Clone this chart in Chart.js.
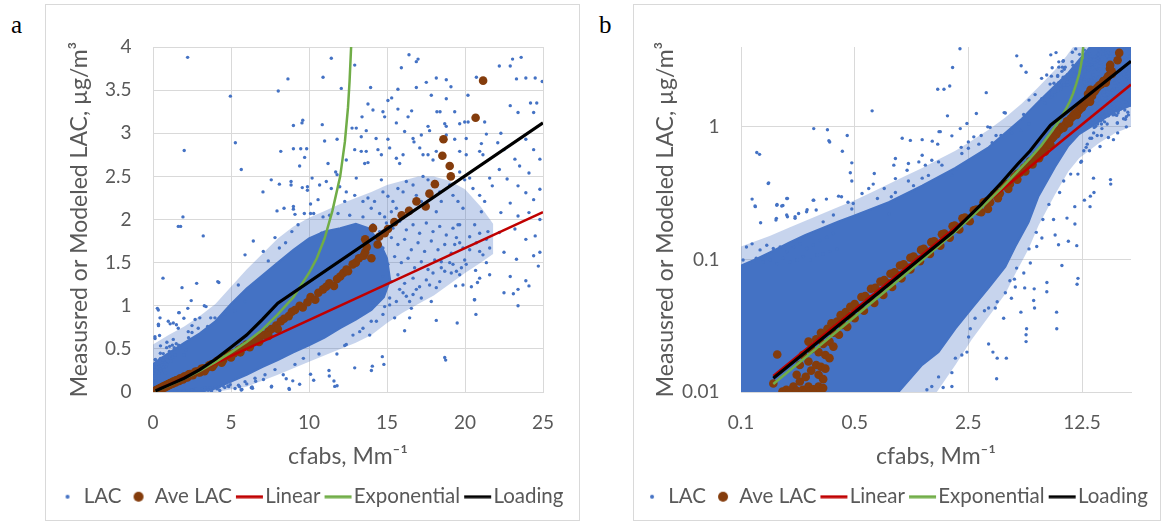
<!DOCTYPE html>
<html>
<head>
<meta charset="utf-8">
<script src="https://cdn.jsdelivr.net/npm/chart.js@4.4.1/dist/chart.umd.min.js"></script>
<style>
  body { margin: 0; background: #fff; width: 1162px; height: 522px; position: relative; overflow: hidden; }
  .panel { position: absolute; top: 4px; height: 517px; border: 1px solid #d9d9d9; box-sizing: border-box; }
  .tag { position: absolute; top: 12px; font: 25px/25px "Liberation Serif", "Times New Roman", serif; color: #000; }
  canvas { position: absolute; top: 5px; }
</style>
</head>
<body>
<div class="panel" style="left:45px;width:535px"></div>
<div class="panel" style="left:633px;width:528px"></div>
<div class="tag" style="left:11px">a</div>
<div class="tag" style="left:599px">b</div>
<canvas id="chartA" width="533" height="515" style="left:46px"></canvas>
<canvas id="chartB" width="526" height="515" style="left:634px"></canvas>
<script>
// tick values
const tickA_X = [0, 5, 10, 15, 20, 25];
const tickA_Y = [0, 0.5, 1, 1.5, 2, 2.5, 3, 3.5, 4];
const tickB_X = [0.1, 0.5, 2.5, 12.5];
const tickB_Y = [0.01, 0.1, 1];

// fitted curves [cfabs, LAC]
const linearPoints = [[0.158, 0.0132], [25, 2.085]];
const expPoints = [[0.158, 0.0115], [0.5, 0.037], [1, 0.075], [2, 0.155], [3, 0.245], [4, 0.345], [5, 0.46], [6, 0.58],
  [7, 0.72], [8, 0.9], [9, 1.1], [10, 1.38], [10.5, 1.55], [11, 1.78], [11.5, 2.1], [12, 2.5], [12.3, 2.9], [12.5, 3.3],
  [12.6, 3.6], [12.7, 4.0]];
const loadingPoints = [[0.158, 0.0127], [0.5, 0.04], [1, 0.08], [2, 0.16], [3, 0.26], [4, 0.38], [5, 0.52], [6, 0.66],
  [7, 0.84], [8, 1.03], [25, 3.12]];

// averaged LAC
const avePoints = [
  [0.158,0.0116],[0.167,0.0192],[0.18,0.0101],[0.19,0.0104],[0.2,0.0101],[0.21,0.011],[0.22,0.0102],[0.23,0.012],[0.24,0.0104],
  [0.25,0.0101],[0.26,0.011],[0.27,0.0102],[0.28,0.0105],[0.29,0.0101],[0.3,0.011],[0.31,0.0104],[0.32,0.0107],
  [0.22,0.0135],[0.25,0.013],[0.27,0.0145],[0.3,0.0135],[0.32,0.0125],[0.23,0.016],[0.26,0.017],[0.29,0.016],[0.31,0.0155],
  [0.33,0.015],[0.24,0.019],[0.27,0.021],[0.3,0.02],[0.33,0.019],[0.35,0.018],[0.26,0.024],[0.29,0.025],[0.32,0.023],
  [0.35,0.024],[0.37,0.022],[0.31,0.028],[0.34,0.03],[0.37,0.028],[0.4,0.027],[0.36,0.033],[0.39,0.034],[0.42,0.032],
  [0.45,0.031],[0.41,0.038],[0.44,0.04],[0.47,0.037],[0.5,0.036],[0.47,0.044],[0.5,0.046],[0.54,0.043],[0.57,0.041],
  [0.55,0.052],[0.58,0.053],[0.62,0.05],[0.66,0.047],[0.63,0.06],[0.67,0.061],[0.71,0.057],[0.75,0.054],[0.72,0.068],
  [0.76,0.07],[0.8,0.066],[0.85,0.062],[0.83,0.078],[0.88,0.08],[0.92,0.076],[0.97,0.072],[0.95,0.09],[1.0,0.092],
  [1.05,0.087],[1.1,0.084],[1.1,0.103],[1.15,0.105],[1.2,0.1],[1.26,0.097],[1.28,0.118],[1.33,0.12],[1.38,0.114],
  [1.45,0.11],[1.48,0.135],[1.54,0.137],[1.6,0.13],[1.68,0.127],[1.72,0.155],[1.78,0.157],[1.85,0.15],[1.92,0.146],
  [2.0,0.178],[2.06,0.18],[2.12,0.172],[2.2,0.168],[2.3,0.204],[2.38,0.207],[2.45,0.198],[2.55,0.194],[2.7,0.235],
  [2.8,0.238],[2.9,0.23],[3.0,0.227],[3.1,0.27],[3.25,0.275],[3.4,0.27],[3.3,0.24],[3.6,0.31],[3.75,0.32],[3.9,0.315],
  [3.8,0.29],[4.1,0.36],[4.3,0.37],[4.5,0.37],[4.4,0.34],[4.8,0.42],[5.0,0.44],[5.2,0.45],[5.0,0.4],[5.5,0.49],[5.8,0.52],
  [6.0,0.55],[5.6,0.46],[6.3,0.57],[6.6,0.61],[6.8,0.63],[6.2,0.52],[7.1,0.66],[7.4,0.7],[7.6,0.73],[6.8,0.58],[7.9,0.77],
  [8.2,0.82],[8.4,0.85],[7.4,0.65],[8.0,0.73],[8.7,0.88],[8.9,0.93],[9.1,0.95],[9.4,1.0],[9.6,0.98],[9.9,1.04],[10.1,1.1],
  [10.4,1.07],[10.6,1.15],[10.9,1.19],[11.1,1.22],[11.3,1.26],[11.6,1.23],[11.8,1.31],[12.0,1.34],[12.2,1.38],[12.4,1.42],
  [12.5,1.4],[12.8,1.48],[13.0,1.5],[13.2,1.55],[13.5,1.58],[13.6,1.62],[13.7,1.68],[13.6,1.77],[14.0,1.55],[14.1,1.9],
  [14.4,1.71],[14.5,1.8],[14.85,1.84],[15.06,1.89],[15.47,1.97],[15.94,2.05],[16.41,2.1],[16.89,2.21],[17.48,2.15],
  [17.72,2.3],[18.07,2.41],[18.55,2.74],[18.62,2.93],[19.02,2.62],[19.09,2.5],[20.68,3.18],[21.16,3.61]
];

// individual LAC samples outside the dense core
const lacPoints = [
  [2.22,3.88],[8.65,3.63],[8.03,3.49],[4.96,3.43],[9.6,3.15],[9.55,3.12],[9.0,3.09],[5.28,2.89],[2.0,2.8],[8.19,2.79],
  [9.0,2.82],[9.47,2.82],[9.85,2.82],[9.72,2.72],[9.4,2.62],[5.66,2.58],[7.58,2.46],[8.1,2.41],[8.85,2.44],[8.85,2.4],
  [7.05,2.32],[9.57,2.37],[9.9,2.38],[9.9,2.34],[10.2,2.48],[10.1,2.18],[7.95,2.1],[8.4,2.13],[9.0,2.15],[9.0,2.12],
  [9.7,2.07],[10.1,2.07],[10.3,2.07],[1.92,2.03],[9.1,2.06],[1.62,1.92],[1.77,1.92],[3.22,1.81],[0.64,1.32],[1.86,1.21],
  [2.8,1.26],[4.15,1.28],[3.29,1.0],[1.65,0.92],[0.28,0.97],[0.45,0.86],[0.98,0.82],[1.62,0.74],[2.26,0.7],[2.9,0.74],
  [3.5,0.76],[3.97,0.86],[4.6,0.9],[5.26,0.94],[5.9,1.05],[5.47,1.24],[5.9,1.59],[6.43,1.75],[7.07,1.63],[7.39,1.52],
  [7.82,1.79],[8.1,1.67],[8.5,1.73],[8.9,1.86],[9.3,1.94],[0.34,0.95],[0.13,0.62],
  [5.9,0.12],[5.26,0.04],[5.7,0.03],[6.54,0.16],[7.18,0.2],[7.82,0.26],[8.35,0.2],[8.72,0.04],[9.1,0.32],[9.64,0.39],
  [11.43,3.87],[12.93,3.79],[10.9,3.65],[16.41,3.91],[16.99,3.86],[16.88,3.83],[15.92,3.76],[12.07,3.52],[13.95,3.53],
  [15.7,3.51],[16.88,3.53],[17.52,3.59],[18.16,3.64],[18.8,3.62],[19.1,3.54],[20.73,3.65],[15.3,3.41],[15.06,3.38],
  [13.78,3.34],[14.1,3.27],[14.74,3.25],[15.7,3.28],[16.35,3.19],[13.4,3.19],[17.84,3.44],[18.8,3.4],[20.19,3.44],
  [18.2,3.25],[18.4,3.25],[19.34,3.25],[16.58,3.26],[10.85,3.1],[13.03,3.06],[13.67,3.03],[14.85,3.19],[15.6,3.12],
  [16.13,3.02],[17.63,3.08],[17.73,3.03],[18.7,3.11],[18.8,3.08],[19.66,3.11],[19.98,3.13],[20.2,3.13],[21.26,3.13],
  [21.37,2.99],[11.0,2.91],[11.8,2.93],[12.76,3.06],[13.35,2.96],[14.3,2.94],[15.06,2.93],[16.67,2.94],[16.73,2.9],
  [17.2,2.98],[18.8,2.98],[19.34,2.93],[20.08,2.94],[21.05,2.88],[11.22,2.65],[11.71,2.55],[11.8,2.52],[12.39,2.69],
  [12.93,2.81],[13.35,2.79],[13.67,2.79],[13.57,2.65],[13.78,2.66],[14.42,2.81],[14.64,2.75],[15.17,2.83],[15.6,2.71],
  [15.81,2.65],[16.03,2.75],[17.1,2.83],[17.31,2.75],[17.63,2.75],[17.95,2.69],[18.16,2.79],[19.66,2.79],[20.08,2.75],
  [20.94,2.79],[21.15,2.75],[10.68,2.4],[11.11,2.44],[11.43,2.36],[10.58,2.23],[11.97,2.38],[12.39,2.32],[12.29,2.21],
  [13.03,2.48],[12.93,2.28],[13.46,2.21],[13.78,2.25],[13.99,2.13],[14.2,2.21],[14.64,2.46],[14.74,2.32],[15.06,2.27],
  [15.38,2.21],[15.28,2.09],[15.6,2.13],[15.7,2.36],[16.03,2.32],[16.24,2.44],[16.67,2.4],[16.88,2.28],[17.2,2.21],
  [16.45,2.13],[17.31,2.5],[17.63,2.46],[18.06,2.44],[18.38,2.32],[18.48,2.21],[18.16,2.09],[19.02,2.4],[19.23,2.28],
  [19.55,2.21],[19.87,2.13],[20.3,2.48],[20.51,2.36],[20.94,2.28],[21.26,2.21],[21.05,2.09],[19.66,2.55],[19.98,2.46],
  [21.58,2.48],[14.53,2.07],[14.85,2.03],[13.46,2.03],[12.61,2.05],[11.86,2.07],[11.32,2.05],[10.9,2.03],
  [19.55,1.94],[19.66,1.94],[20.62,1.94],[20.94,1.84],[21.47,1.86],[21.37,1.77],[19.34,1.71],[19.66,1.73],[20.3,1.65],
  [20.94,1.63],[19.98,1.53],[20.08,1.48],[20.68,1.41],[21.58,1.36],[18.48,1.51],[19.02,1.5],[19.23,1.48],[18.48,1.44],
  [18.7,1.4],[19.12,1.38],[19.45,1.4],[19.66,1.36],[17.95,1.38],[18.38,1.28],[18.16,1.21],[17.73,1.24],[19.87,1.24],
  [20.41,1.22],[17.84,1.05],[17.2,1.09],[16.67,1.13],[16.45,1.05],[16.03,1.15],[16.56,0.97],[20.62,1.07],[15.49,0.86],
  [16.45,0.86],[18.16,0.83],[16.13,0.71],[15.17,1.09],[14.85,0.99],[14.53,1.13],[15.6,1.05],[15.17,1.01],[14.1,1.03],
  [14.74,0.9],[14.32,0.82],[13.99,0.82],[13.46,0.74],[13.25,0.7],[12.82,0.66],[12.39,0.55],[13.89,0.66],[12.29,0.54],
  [10.64,0.44],[11.79,0.44],[14.7,0.41],[14.06,0.3],[14.0,0.25],[12.93,0.28],[11.28,0.25],[18.76,0.37],[11.65,0.065],
  [14.1,1.94],[14.53,1.86],[14.96,1.96],[15.38,1.9],[15.81,1.98],[16.24,1.88],[16.67,1.94],[17.09,1.84],[17.52,1.96],
  [17.95,1.86],[18.38,1.92],[18.8,1.82],[19.23,1.9],[14.3,1.75],[14.74,1.67],[15.28,1.79],[15.7,1.71],[16.13,1.77],
  [16.56,1.65],[16.99,1.73],[17.41,1.63],[17.84,1.75],[18.27,1.65],[18.7,1.71],[19.12,1.61],[14.53,1.55],[15.06,1.48],
  [15.49,1.57],[15.92,1.5],[16.35,1.55],[16.77,1.44],[17.2,1.51],[17.63,1.42],[18.06,1.53],[14.74,1.34],[15.28,1.28],
  [15.7,1.36],[16.13,1.26],[16.67,1.32],[17.09,1.22],[17.52,1.3],[14.42,1.19],[15.81,1.19],[16.24,1.11],[16.88,1.19],
  [19.45,1.79],[19.87,1.67],[20.3,1.8],[20.73,1.73],[21.15,1.59],[21.58,1.67],[19.77,1.44],[21.37,1.5],[20.94,1.32],
  [22.2,3.78],[23.05,3.86],[22.9,3.78],[23.6,3.88],[23.3,3.63],[23.9,3.64],[24.5,3.64],[24.95,3.6],[24.2,3.35],
  [24.6,3.35],[24.4,3.24],[22.9,3.32],[23.4,3.24],[22.3,3.0],[22.1,2.89],[22.5,2.81],[23.9,2.93],[24.4,2.81],[24.8,2.7],
  [23.2,2.7],[23.5,2.62],[24.1,2.54],[22.2,2.58],[22.7,2.47],[21.75,2.39],[23.4,2.39],[23.9,2.31],[24.4,2.23],[24.8,2.35],
  [22.9,2.19],[22.3,2.08],[23.4,2.04],[24.1,2.08],[24.8,2.0],[22.2,1.85],[23.2,1.89],[23.9,1.77],[24.5,1.81],[22.5,1.62],
  [23.3,1.54],[24.4,1.58],[24.8,1.62],[22.9,1.34],[23.9,1.29],[24.7,1.46],[22.5,1.15],[23.4,1.19],[24.1,1.23],[23.4,1.0],
  [19.4,1.23],[20.6,1.07],[20.8,1.27],[19.5,0.8],[18.7,0.4],[20.7,0.9],
  [10.8,1.84],[11.3,1.49],[4.22,1.27],[3.4,0.99],[3.7,0.86],[3.0,0.86],[2.7,0.84],[2.5,0.77],[2.45,1.06],
  [0.351,0.769],[0.42,0.655],[0.48,0.535],[0.47,0.45],[0.48,0.39],[0.125,0.64],[0.148,0.378],[0.1225,0.25],[0.1665,0.26],
  [0.181,0.255],[0.193,0.288],[0.28,0.28],[0.335,0.285],[0.398,0.3],[0.415,0.297],[0.455,0.27],[0.49,0.264],[0.48,0.24],
  [0.226,0.222],[0.255,0.237],[0.29,0.236],[0.165,0.204],[0.193,0.21],[0.215,0.204],[0.555,0.314],[0.61,0.343],
  [0.65,0.37],[0.69,0.288],[0.76,0.343],[0.84,0.297],[0.89,0.32],[0.87,0.514],[0.89,0.577],[1.07,0.529],[1.05,0.47],
  [1.24,0.544],[1.3,0.61],[1.36,0.514],[1.49,0.56],[1.1,0.79],[1.3,0.8],[1.5,0.78],[1.68,0.92],[1.98,0.855],[2.23,0.97],
  [1.72,0.514],[2.28,0.63],[2.5,0.69],[1.98,0.43],[1.64,0.544],[2.13,0.485],[1.07,0.39],[1.3,0.41],[1.42,0.43],
  [1.15,0.36],[0.66,0.445],[0.89,0.407],[0.81,0.22],[0.347,0.785],[0.117,0.285],
  [0.147,0.374],[0.122,0.253],[0.132,0.189],[0.166,0.256],[0.178,0.253],[0.191,0.288],[0.164,0.198],[0.191,0.216],
  [0.215,0.21],[0.253,0.229],[0.278,0.28],[0.32,0.192],[0.37,0.216],[0.108,0.124],[0.117,0.131],[0.131,0.118],
  [0.144,0.128],[0.158,0.121],[0.174,0.124],[0.191,0.114],[0.21,0.124],[0.231,0.131],[0.253,0.121],[0.278,0.128],
  [0.306,0.139],[0.336,0.147],[0.37,0.157],[0.103,0.099],[0.114,0.093],[0.124,0.102],[0.137,0.096],[0.151,0.099],
  [0.166,0.093],[0.182,0.102],[0.2,0.096],[0.22,0.099],[0.242,0.105],[0.266,0.099],[0.292,0.108],[0.32,0.11],
  [0.353,0.115],[0.388,0.12],
  [11.8,0.072],[8.74,0.03],[7.59,0.057],[6.38,0.043],[6.3,0.049],[5.66,0.027],[5.66,0.024],[5.55,0.061],[4.8,0.071],
  [4.5,0.069],[4.86,0.062],[4.22,0.056],[3.76,0.048],[3.66,0.043],[4.12,0.036],[3.33,0.043],[3.14,0.041],[2.75,0.036],
  [2.57,0.03],[2.51,0.026],[2.45,0.02],[2.28,0.019],[2.08,0.018],[1.98,0.014],[3.54,0.02],[3.76,0.018],[3.33,0.023],
  [1.98,0.011],[1.64,0.013],[1.49,0.011],[1.39,0.0104],[1.75,0.0108],[4.6,0.051],[4.95,0.086],[5.48,0.079],[6.01,0.094],
  [6.58,0.125],[7.08,0.145],[8.54,0.153],[8.96,0.129],[10.1,0.205],[10.3,0.137],[11.3,0.185],[14.8,0.32],[4.28,0.018],
  [3.73,0.0126],[6.35,0.06],[7.6,0.067],[9.4,0.09],[11.6,0.127],[23.1,1.14]
];

// outline of the solid part of the LAC cloud, as seen on each panel
const coreA = [[0,0],[3,0],[4,0.04],[5,0.12],[6,0.2],[7,0.29],[8,0.37],[9,0.46],[10,0.54],[11,0.63],[12,0.74],
  [13,0.84],[14,0.95],[14.8,1.1],[15.2,1.3],[15.0,1.55],[14.5,1.75],[13.8,1.9],[13,1.95],[12,1.9],[11,1.86],[10,1.78],
  [9,1.65],[8,1.5],[7,1.35],[6,1.2],[5,1.02],[4,0.82],[3,0.68],[2,0.57],[1,0.45],[0.4,0.38],[0,0.32],[0,0]];
const coreB = [[0.1,0.01],[0.93,0.01],[1.3,0.016],[1.64,0.02],[2.08,0.03],[2.63,0.043],[3.33,0.061],[4.22,0.088],
  [4.86,0.125],[5.86,0.19],[6.75,0.3],[8.54,0.5],[10.3,0.72],[12,0.88],[16,1.1],[20,1.3],[25,1.45],[25,4],[14,4],
  [12,3.2],[10.3,2.55],[8.54,2.05],[6.75,1.55],[5.33,1.15],[3.33,0.7],[2.08,0.49],[1.3,0.36],[0.81,0.27],[0.5,0.215],
  [0.398,0.193],[0.315,0.172],[0.249,0.153],[0.196,0.133],[0.155,0.115],[0.1225,0.1],[0.1,0.09],[0.1,0.01]];
// outline of the thinner, speckled fringe around it
const fringeA = [[0,0],[4,0],[6,0.06],[8,0.2],[10,0.35],[12,0.5],[13,0.57],[14,0.66],[15,0.8],[16,0.92],[17,1.02],
  [18,1.12],[19,1.25],[20,1.38],[21,1.5],[21.8,1.6],[21.8,1.95],[21,2.15],[20,2.35],[19,2.45],[18,2.5],[17,2.5],
  [16,2.45],[15,2.4],[14,2.32],[13,2.25],[12,2.18],[11,2.1],[10,2.02],[9,1.92],[8,1.78],[7,1.6],[6,1.42],[5,1.22],
  [4,1.02],[3,0.88],[2,0.76],[1,0.66],[0,0.55],[0,0]];
const fringeB = [[0.93,0.01],[1.6,0.01],[2.08,0.016],[2.63,0.025],[3.33,0.037],[4.22,0.055],[4.86,0.078],[5.86,0.12],
  [6.75,0.18],[8.54,0.31],[10.3,0.46],[12,0.58],[16,0.76],[20,0.9],[25,1.0],[25,4],[11,4],[10,3.4],[8.54,2.7],
  [6.75,2.0],[5.33,1.5],[4.2,1.17],[3.33,0.95],[2.5,0.76],[2.08,0.66],[1.6,0.56],[1.3,0.49],[1.0,0.42],[0.81,0.37],
  [0.6,0.31],[0.5,0.28],[0.4,0.25],[0.3,0.215],[0.2,0.175],[0.15,0.15],[0.1,0.125],[0.1,0.01],[0.93,0.01]];

const BLUE = '#4472C4', BROWN = '#843C0C', RED = '#C00000', GREEN = '#70AD47', GREY = '#595959', GRID = '#D9D9D9';
Chart.defaults.font.family = 'Lato, "Open Sans", sans-serif';
Chart.defaults.color = GREY;

const xy = arr => arr.map(p => ({ x: p[0], y: p[1] }));

function dot(r, color) {
  const c = document.createElement('canvas');
  c.width = c.height = Math.ceil(r * 2) + 2;
  const g = c.getContext('2d');
  g.fillStyle = color;
  g.beginPath();
  g.arc(c.width / 2, c.height / 2, r, 0, Math.PI * 2);
  g.fill();
  return c;
}
function dash(color) {
  const c = document.createElement('canvas');
  c.width = 30; c.height = 4;
  const g = c.getContext('2d');
  g.fillStyle = color;
  g.fillRect(2, 0.5, 27, 3);
  return c;
}
const legendIcons = [dot(2, BLUE), dot(5, BROWN), dash(RED), dash(GREEN), dash('#000')];

function buildDatasets(core, fringe) {
  return [
    { label: 'LAC', data: xy(lacPoints), pointRadius: 1.7, pointBackgroundColor: BLUE, pointBorderWidth: 0, order: 4 },
    { label: 'Ave LAC', data: xy(avePoints), pointRadius: 4.3, pointBackgroundColor: BROWN, pointBorderWidth: 0, order: 3 },
    { label: 'Linear', type: 'line', data: xy(linearPoints), borderColor: RED, borderWidth: 2.5, pointRadius: 0, order: 2 },
    { label: 'Exponential', type: 'line', data: xy(expPoints), borderColor: GREEN, borderWidth: 2.5, pointRadius: 0, order: 1 },
    { label: 'Loading', type: 'line', data: xy(loadingPoints), borderColor: '#000', borderWidth: 3.2, pointRadius: 0, order: 0 },
    { label: 'core', type: 'line', data: xy(core), borderColor: BLUE, backgroundColor: BLUE, borderWidth: 2,
      fill: 'shape', pointRadius: 0, order: 5 },
    { label: 'fringe', type: 'line', data: xy(fringe), borderWidth: 0, borderColor: 'rgba(0,0,0,0)',
      backgroundColor: 'rgba(68,114,196,0.3)', fill: 'shape', pointRadius: 0, order: 6 }
  ];
}

function buildChart(id, cfg) {
  const fixTicks = list => s => { s.ticks = list.map(v => ({ value: v })); };
  return new Chart(document.getElementById(id), {
    type: 'scatter',
    data: { datasets: buildDatasets(cfg.core, cfg.fringe) },
    options: {
      animation: false,
      responsive: false,
      devicePixelRatio: 1,
      layout: { padding: { left: 0, right: 0, top: 42, bottom: 3 } },
      plugins: {
        tooltip: { enabled: false },
        legend: {
          position: 'bottom',
          labels: {
            usePointStyle: true, boxWidth: 12, boxHeight: 12, padding: 11, color: GREY,
            font: { size: 20.5 },
            generateLabels: chart => {
              const items = Chart.defaults.plugins.legend.labels.generateLabels(chart);
              items.forEach(it => { it.pointStyle = legendIcons[it.datasetIndex]; });
              return items;
            },
            filter: item => item.datasetIndex < 5,
            sort: (a, b) => a.datasetIndex - b.datasetIndex
          }
        }
      },
      scales: {
        x: {
          type: cfg.type, min: cfg.xMin, max: cfg.xMax,
          afterBuildTicks: fixTicks(cfg.xTicks),
          grid: { color: GRID, drawTicks: false },
          border: { color: GRID },
          ticks: { padding: 19, font: { size: 19 }, color: GREY, callback: v => String(v) },
          title: { display: true, text: 'cfabs, Mm\u207B\u00B9', font: { size: 23 }, color: GREY, padding: { top: 0, bottom: 5 } },
          afterFit: s => { s.height = s.chart.height - 3 - s.chart.legend.height - 387; }
        },
        y: {
          type: cfg.type, min: cfg.yMin, max: cfg.yMax,
          afterBuildTicks: fixTicks(cfg.yTicks),
          grid: { color: GRID, drawTicks: false },
          border: { color: GRID },
          ticks: { padding: 21.5, font: { size: 19 }, color: GREY, callback: v => String(v) },
          title: { display: true, text: 'Measusred or Modeled LAC, \u00B5g/m\u00B3', font: { size: 23 }, color: GREY,
            padding: { top: cfg.titlePad, bottom: 0 } },
          afterFit: s => { s.width = 107; }
        },
        pad: {
          axis: 'y', position: 'right', display: true,
          grid: { display: false }, border: { display: false }, ticks: { display: false },
          afterFit: s => { s.width = cfg.rightPad; }
        }
      }
    }
  });
}

buildChart('chartA', { type: 'linear', xMin: 0, xMax: 25, yMin: 0, yMax: 4, xTicks: tickA_X, yTicks: tickA_Y,
  core: coreA, fringe: fringeA, rightPad: 36, titlePad: 20 });
buildChart('chartB', { type: 'logarithmic', xMin: 0.1, xMax: 25, yMin: 0.01, yMax: 4, xTicks: tickB_X, yTicks: tickB_Y,
  core: coreB, fringe: fringeB, rightPad: 29, titlePad: 18 });
</script>
</body>
</html>
